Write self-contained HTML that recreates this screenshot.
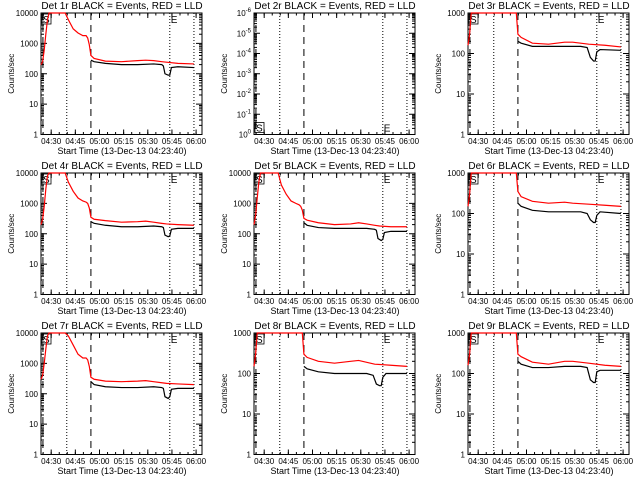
<!DOCTYPE html>
<html><head><meta charset="utf-8"><style>
body{margin:0;background:#fff;}
svg{display:block;font-family:"Liberation Sans",sans-serif;}
</style></head><body>
<svg id="chart" width="640" height="480" viewBox="0 0 640 480">
<rect width="640" height="480" fill="#fff"/>
</svg>
<script>
// shared time arrays (minutes after 04:23:40)
const timesA = [0,1,2,3,4,5,15,17,20,23,26,28,29,30,31,33,40,50,60,65,70,75,78,85,95];
const timesBlackA = [31,33,40,50,60,70,75,76,77,79,80,81,85,95];
const timesB = [0,1,2,30,31,33,40,50,60,65,75,85,95];
const timesBlackB = [31,33,40,50,60,70,74,76,78,79,80,82,95];
const xTickLabels = ["04:30","04:45","05:00","05:15","05:30","05:45","06:00"];
const xTickTimes = [6.33,21.33,36.33,51.33,66.33,81.33,96.33];
const titles = ["Det 1r","Det 2r","Det 3r","Det 4r","Det 5r","Det 6r","Det 7r","Det 8r","Det 9r"];
// red (LLD) series
const red1 = [200,250,600,2000,6000,10000,10000,6000,3000,2200,1800,1800,1500,900,400,320,260,250,270,280,270,250,240,220,210];
const red4 = [200,300,800,3000,8000,10000,10000,5000,2500,1500,1200,1100,1000,700,350,300,270,240,250,260,240,220,210,200,190];
const red5 = [200,400,1500,5000,10000,10000,10000,4000,2000,1200,1000,900,800,600,320,280,230,200,210,230,210,190,180,170,170];
const red7 = [300,400,1000,3000,8000,10000,10000,8000,4000,2000,1500,1500,1300,800,350,300,260,250,260,270,250,230,220,210,200];
const red3 = [160,300,1000,1000,300,250,180,170,190,190,170,160,145];
const red6 = [150,300,1000,1000,350,260,200,180,190,180,170,160,150];
const red8 = [150,300,1000,1000,300,250,200,180,200,210,170,160,150];
const red9 = [160,300,1000,1000,300,260,190,170,200,200,180,160,150];
// black (events) series
const blk1 = [280,250,220,200,200,210,200,180,100,90,90,160,170,160];
const blk4 = [250,220,190,170,170,180,170,160,90,80,85,140,150,150];
const blk5 = [230,190,160,150,150,150,140,130,70,60,65,110,120,120];
const blk7 = [250,200,170,160,160,170,160,150,80,70,80,140,150,150];
const blk3 = [200,180,150,150,150,150,140,80,65,65,110,125,120];
const blk6 = [180,150,120,110,110,110,100,70,60,60,90,110,100];
const blk8 = [150,130,110,100,100,100,90,55,50,50,80,100,100];
const blk9 = [200,170,140,140,150,150,140,70,60,60,110,120,120];

const NS="http://www.w3.org/2000/svg";
const svg=document.getElementById('chart');
function mk(parent,tag,attrs,name){
  const el=document.createElementNS(NS,tag);
  for(const k in attrs) el.setAttribute(k,attrs[k]);
  
  
  parent.appendChild(el);return el;
}
const panels=[
 {lo:0,hi:4,red:red1,rt:timesA,blk:blk1,bt:timesBlackA},
 {lo:-6,hi:0,neg:true},
 {lo:0,hi:3,red:red3,rt:timesB,blk:blk3,bt:timesBlackB},
 {lo:0,hi:4,red:red4,rt:timesA,blk:blk4,bt:timesBlackA},
 {lo:0,hi:4,red:red5,rt:timesA,blk:blk5,bt:timesBlackA},
 {lo:0,hi:3,red:red6,rt:timesB,blk:blk6,bt:timesBlackB},
 {lo:0,hi:4,red:red7,rt:timesA,blk:blk7,bt:timesBlackA},
 {lo:0,hi:3,red:red8,rt:timesB,blk:blk8,bt:timesBlackB},
 {lo:0,hi:3,red:red9,rt:timesB,blk:blk9,bt:timesBlackB}
];
const X0=41,X1=202,Y0=13,Y1=134.5,TMAX=100;
panels.forEach((p,i)=>{
  const ox=Math.round((i%3)*213.33), oy=Math.floor(i/3)*160;
  const g=mk(svg,'g',{transform:`translate(${ox},${oy})`},'panel-'+(i+1));
  const xs=t=>X0+(X1-X0)*t/TMAX;
  const ys=v=>{let l=Math.log10(v); l=Math.max(p.lo,Math.min(p.hi,l));return Y1-(Y1-Y0)*(l-p.lo)/(p.hi-p.lo);};
  const yl=l=>Y1-(Y1-Y0)*(l-p.lo)/(p.hi-p.lo);
  mk(g,'text',{x:122,y:9,'text-anchor':'middle','font-size':'10'},'panel-title').textContent=titles[i]+" BLACK = Events, RED = LLD";
  mk(g,'rect',{x:X0,y:Y0,width:X1-X0,height:Y1-Y0,fill:'none',stroke:'#000','stroke-width':1},'plot-frame');
  for(let d=p.lo;d<=p.hi;d++){
    const y=yl(d);
    mk(g,'line',{x1:X0,x2:X0+6,y1:y,y2:y,stroke:'#000'},'y-tick');
    mk(g,'line',{x1:X1,x2:X1-6,y1:y,y2:y,stroke:'#000'},'y-tick');
    let lab;
    if(p.neg){lab=mk(g,'text',{x:X0-3,y:y+3,'text-anchor':'end','font-size':'8'},'y-tick-label');
      lab.textContent='10';const s=mk(lab,'tspan',{dy:-4,'font-size':'6'},'exponent');
      const e=-(d-p.lo); s.textContent=String(e===0?0:e);
    } else {lab=mk(g,'text',{x:X0-3,y:y+3,'text-anchor':'end','font-size':'8'},'y-tick-label');lab.textContent=String(Math.pow(10,d));}
    if(d<p.hi) for(let m=2;m<10;m++){const ym=yl(d+Math.log10(m));
      mk(g,'line',{x1:X0,x2:X0+3,y1:ym,y2:ym,stroke:'#000'},'y-minor-tick');
      mk(g,'line',{x1:X1,x2:X1-3,y1:ym,y2:ym,stroke:'#000'},'y-minor-tick');}
  }
  const yt=mk(g,'text',{x:0,y:0,transform:`translate(14,${(Y0+Y1)/2}) rotate(-90)`,'text-anchor':'middle','font-size':'8'},'y-axis-title');yt.textContent='Counts/sec';
  xTickTimes.forEach((t,k)=>{const x=xs(t);
    mk(g,'line',{x1:x,x2:x,y1:Y1,y2:Y1-5,stroke:'#000'},'x-tick');
    mk(g,'line',{x1:x,x2:x,y1:Y0,y2:Y0+5,stroke:'#000'},'x-tick');
    mk(g,'text',{x:x,y:144,'text-anchor':'middle','font-size':'8'},'x-tick-label').textContent=xTickLabels[k];});
  for(let t=1.33;t<TMAX;t+=5){const x=xs(t);
    mk(g,'line',{x1:x,x2:x,y1:Y1,y2:Y1-2.5,stroke:'#000'},'x-minor-tick');
    mk(g,'line',{x1:x,x2:x,y1:Y0,y2:Y0+2.5,stroke:'#000'},'x-minor-tick');}
  mk(g,'text',{x:122,y:154,'text-anchor':'middle','font-size':'9'},'x-axis-title').textContent='Start Time (13-Dec-13 04:23:40)';
  [[16,'1,2'],[80,'1,2'],[95,'1,2']].forEach(v=>mk(g,'line',{x1:xs(v[0]),x2:xs(v[0]),y1:Y0,y2:Y1,stroke:'#000','stroke-dasharray':v[1]},'dotted-marker'));
  [1.2,31].forEach(t=>mk(g,'line',{x1:xs(t),x2:xs(t),y1:Y0,y2:Y1,stroke:'#000','stroke-dasharray':'7,5'},'dashed-marker'));
  const sy=p.neg?Y1-12:Y0+1;
  mk(g,'rect',{x:X0+1,y:sy,width:9,height:10,fill:'none',stroke:'#000','stroke-width':0.8},'start-box');
  mk(g,'text',{x:X0+2,y:sy+9,'font-size':'10'},'start-label').textContent='S';
  mk(g,'text',{x:xs(80)+1,y:sy+9,'font-size':'10'},'end-label').textContent='E';
  if(p.red){
    mk(g,'polyline',{points:p.rt.map((t,k)=>xs(t)+','+ys(p.red[k])).join(' '),fill:'none',stroke:'#f00','stroke-width':1.2},'lld-line');
    mk(g,'polyline',{points:p.bt.map((t,k)=>xs(t)+','+ys(p.blk[k])).join(' '),fill:'none',stroke:'#000','stroke-width':1.2},'events-line');
  }
});
</script>
</body></html>
